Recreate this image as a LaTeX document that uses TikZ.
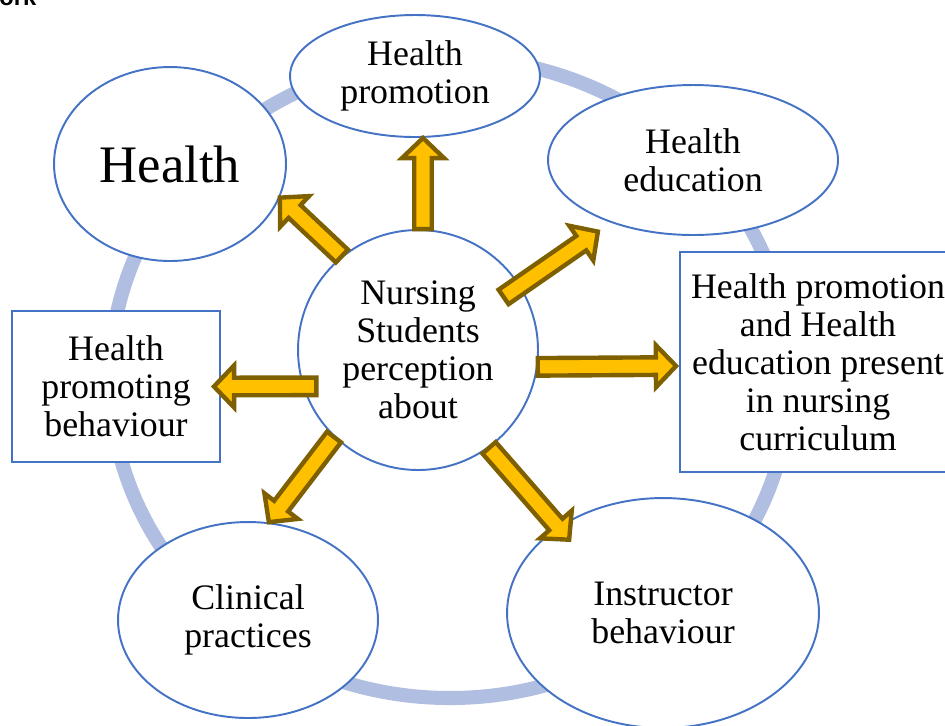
\documentclass[tikz,border=0pt]{standalone}
\usepackage{fontspec}
\setmainfont{Liberation Serif}
\newfontfamily\headfont{Liberation Sans}
\usepackage{tikz}
\usetikzlibrary{shapes.geometric,calc}

\definecolor{ringBlue}{RGB}{176,190,225}
\definecolor{lineBlue}{RGB}{68,114,196}
\definecolor{arrowFill}{RGB}{255,192,0}
\definecolor{arrowLine}{RGB}{127,96,0}

\begin{document}
\begin{tikzpicture}[x=0.02cm,y=-0.02cm]
  \tikzstyle{bubble} = [draw=lineBlue, line width=1.1pt, fill=white, ellipse, inner sep=0pt, align=center, font={\fontsize{20.4}{21.6}\selectfont}]
  \tikzstyle{card} = [bubble, rectangle]
  \tikzstyle{blockArrow} = [draw=arrowLine, fill=arrowFill, line width=2.5pt, line join=miter,
    to path={let \p1=($(\tikztotarget)-(\tikztostart)$), \n1={atan2(\y1,\x1)}, \n2={veclen(\x1,\y1)} in
      [shift={(\tikztostart)}, rotate=\n1]
      (0pt,-5pt) -- ({\n2-11.5pt},-5pt) -- ({\n2-11.5pt},-12pt) -- (\n2,0pt)
      -- ({\n2-11.5pt},12pt) -- ({\n2-11.5pt},5pt) -- (0pt,5pt) -- cycle}]

  \useasboundingbox (0,0) rectangle (945,725);

  \node[font={\headfont\bfseries\fontsize{13.5}{14}\selectfont}, anchor=base west, inner sep=0pt] (T) at (-1,5) {ork};

  % the ring behind everything
  \draw[ringBlue, line width=8pt] (450,378) ellipse [x radius=340, y radius=320];

  \node[bubble, minimum width=4.64cm, minimum height=3.88cm, font={\fontsize{30}{32}\selectfont}] (A) at (170,164) {Health};
  \node[bubble, minimum width=5cm, minimum height=2.44cm]   (B) at (415,76)  {Health\\promotion};
  \node[bubble, minimum width=5.8cm, minimum height=3cm]    (C) at (693,160) {Health\\education};
  \node[card, minimum width=5.52cm, minimum height=4.4cm]   (D) at (818,362) {Health promotion\\and Health\\education present\\in nursing\\curriculum};
  \node[bubble, minimum width=6.24cm, minimum height=4.6cm] (E) at (663,613) {Instructor\\behaviour};
  \node[bubble, minimum width=5.2cm, minimum height=3.92cm] (F) at (248,620) {Clinical\\practices};
  \node[card, minimum width=4.16cm, minimum height=3.02cm]  (G) at (116,386.5) {Health\\promoting\\behaviour};
  \node[bubble, circle, minimum size=4.8cm]                 (S) at (418,350) {Nursing\\Students\\perception\\about};

  \path ([shift={(5,0)}]S.north)    edge[blockArrow] ([shift={(8,0)}]B.south)
        (S.129)                     edge[blockArrow] (A.-17)
        ([shift={(-17,11)}]S.32)    edge[blockArrow] ([shift={(-12,9)}]C.-143)
        (S.-8)                      edge[blockArrow] ([shift={(-3,4)}]D.west)
        ([shift={(12,-5)}]S.200)    edge[blockArrow] ([shift={(-7,0)}]G.east)
        (S.-134)                    edge[blockArrow] (F.78)
        (S.-54)                     edge[blockArrow] ([shift={(14,11)}]E.142);

\end{tikzpicture}
\end{document}
